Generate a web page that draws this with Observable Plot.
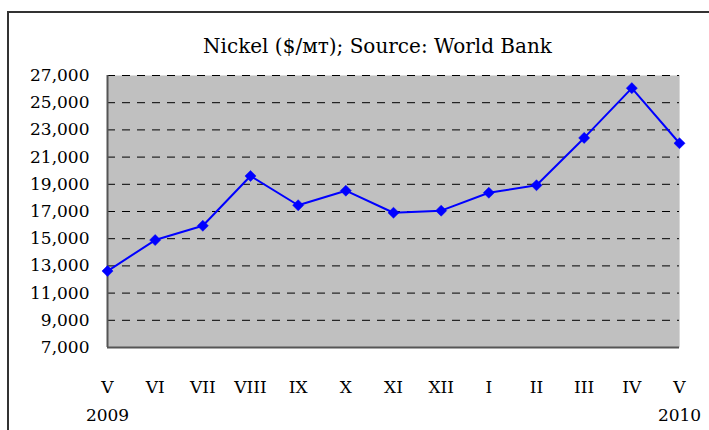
<!DOCTYPE html>
<html>
<head>
<meta charset="utf-8">
<script src="https://cdn.jsdelivr.net/npm/d3@7"></script>
<script src="https://cdn.jsdelivr.net/npm/@observablehq/plot@0.6"></script>
<style>
  html, body { margin: 0; padding: 0; background: #fff; overflow: hidden; }
  #wrap { position: relative; width: 709px; height: 430px; }
  #border { position: absolute; left: 7px; top: 11px; width: 740px; height: 460px; border: 2px solid #333; box-sizing: border-box; pointer-events: none; }
</style>
</head>
<body>
<div id="wrap"><div id="border"></div></div>
<script>
const title = "Nickel ($/мт); Source: World Bank";
const months = ["V", "VI", "VII", "VIII", "IX", "X", "XI", "XII", "I", "II", "III", "IV", "V"];
const prices = [12620, 14900, 15950, 19610, 17460, 18530, 16910, 17060, 18380, 18930, 22410, 26070, 22020];
const yearLabels = ["2009", "2010"];
const yearIndex = [0, 12];
const yTicks = [7000, 9000, 11000, 13000, 15000, 17000, 19000, 21000, 23000, 25000, 27000];

const data = prices.map((v, i) => ({i, v}));
const years = yearLabels.map((y, k) => ({i: yearIndex[k], y}));
const font = "DejaVu Serif";

const chart = Plot.plot({
  width: 709,
  height: 430,
  marginLeft: 107,
  marginRight: 30,
  marginTop: 75,
  marginBottom: 83,
  style: {fontFamily: font, fontSize: "17px", color: "#000", background: "transparent"},
  x: {type: "linear", domain: [0, 12], label: null},
  y: {domain: [7000, 27000], label: null},
  marks: [
    Plot.frame({fill: "#C0C0C0", stroke: null}),
    Plot.ruleX([12], {stroke: "#d8d8d8", strokeWidth: 1}),
    Plot.ruleY(yTicks.slice(1), {stroke: "#000", strokeWidth: 1, strokeDasharray: "8,7"}),
    Plot.ruleX([0], {stroke: "#555", strokeWidth: 2}),
    Plot.ruleY([7000], {stroke: "#555", strokeWidth: 2}),
    Plot.axisY({ticks: yTicks, tickSize: 0, tickPadding: 18, tickFormat: d3.format(","), fontSize: 17, fill: "#000", label: null}),
    Plot.axisX({ticks: d3.range(13), tickSize: 0, tickPadding: 33, tickFormat: i => months[i], fontSize: 17, fill: "#000", label: null}),
    Plot.text(years, {x: "i", y: () => 7000, text: "y", dy: 73, lineAnchor: "bottom", fontSize: 17, fill: "#000"}),
    Plot.text([title], {frameAnchor: "top", text: d => d, dx: -16, dy: -23, lineAnchor: "bottom", fontSize: 20, fill: "#000"}),
    Plot.line(data, {x: "i", y: "v", stroke: "#0000FF", strokeWidth: 2}),
    Plot.dot(data, {x: "i", y: "v", symbol: "diamond2", r: 5, fill: "#0000FF", stroke: "#0000FF", strokeWidth: 0.5})
  ]
});
document.getElementById("wrap").prepend(chart);
</script>
</body>
</html>
